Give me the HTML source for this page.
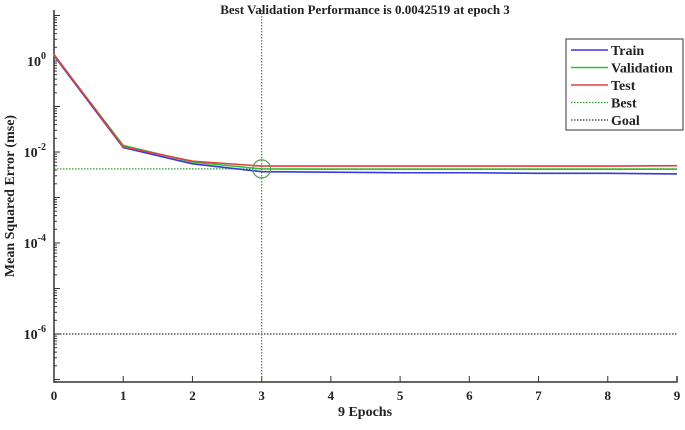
<!DOCTYPE html>
<html><head><meta charset="utf-8"><style>
html,body{margin:0;padding:0;background:#fff;}
svg text{font-family:"Liberation Serif",serif;font-weight:bold;fill:#222;}
</style></head><body>
<svg id="chart" width="685" height="425" viewBox="0 0 685 425">
<g id="plot"></g>
</svg>
<script>
const epochs=[0,1,2,3,4,5,6,7,8,9];
const trainVals=[1.3,0.0125,0.0055,0.0037,0.0036,0.0035,0.0035,0.0034,0.0034,0.0033];
const valVals=[1.35,0.0140,0.0060,0.00425,0.0042,0.0042,0.0042,0.0042,0.0042,0.0042];
const testVals=[1.4,0.0130,0.0063,0.0049,0.0049,0.0049,0.0049,0.0049,0.0049,0.0050];
const xTicks=[0,1,2,3,4,5,6,7,8,9];
const yTickExps=[0,-2,-4,-6];
const bestEpoch=3, bestPerf=0.0042519, goal=1e-6;

const NS="http://www.w3.org/2000/svg";
const g=document.getElementById('plot');
const X0=54,X1=677,YT=10,YB=382;
const xs=v=>X0+(v-0)/(9-0)*(X1-X0);
const ys=v=>152-(Math.log10(v)+2)*45.5;
function mk(t,a,p){const e=document.createElementNS(NS,t);for(const k in a)e.setAttribute(k,a[k]);(p||g).appendChild(e);return e;}

// minor ticks
for(let d=-8;d<=1;d++){for(let m=1;m<10;m++){const y=ys(m*Math.pow(10,d));if(y<YT||y>YB)continue;
const t=mk('line',{x1:X0,x2:X0+(m===1?6:3),y1:y,y2:y,stroke:'#333','stroke-width':1});
}}
yTickExps.forEach(e=>{const y=ys(Math.pow(10,e));
const t=mk('text',{x:X0-8,y:y+5,'text-anchor':'end','font-size':14});

t.textContent='10';const s=mk('tspan',{dy:-7,'font-size':10},t);s.textContent=String(e);});
xTicks.forEach(v=>{const x=xs(v);
const l=mk('line',{x1:x,x2:x,y1:YB,y2:YB-6,stroke:'#333','stroke-width':1});

const t=mk('text',{x:x,y:400,'text-anchor':'middle','font-size':13});
t.textContent=v;});

// axes
const ax=mk('path',{d:`M${X0},${YT}V${YB}H${X1}V${YB-6}`,fill:'none',stroke:'#333','stroke-width':1.5});


// goal & best
const gl=mk('line',{x1:X0,x2:X1,y1:ys(goal),y2:ys(goal),stroke:'#333','stroke-width':1.2,'stroke-dasharray':'1.5 1.5'});

const bh=mk('line',{x1:X0,x2:X1,y1:ys(bestPerf),y2:ys(bestPerf),stroke:'#2a9a2a','stroke-width':1.2,'stroke-dasharray':'1.5 1.5'});

const bv=mk('line',{x1:xs(bestEpoch),x2:xs(bestEpoch),y1:YT,y2:YB,stroke:'#2a9a2a','stroke-width':1.2,'stroke-dasharray':'1.5 1.5'});


function series(vals,color,name){const p=mk('polyline',{points:epochs.map((e,i)=>xs(e)+','+ys(vals[i])).join(' '),fill:'none',stroke:color,'stroke-width':1.6});
}
series(trainVals,'#3838e0','train-line');
series(valVals,'#30c030','validation-line');
series(testVals,'#e04040','test-line');
const c=mk('circle',{cx:xs(bestEpoch),cy:ys(bestPerf),r:9,fill:'none',stroke:'#5a9a5a','stroke-width':1.2});


// title & labels
const ti=mk('text',{x:365,y:14,'text-anchor':'middle','font-size':13});

ti.textContent='Best Validation Performance is 0.0042519 at epoch 3';
const xl=mk('text',{x:365,y:416,'text-anchor':'middle','font-size':14});
xl.textContent='9 Epochs';
const yl=mk('text',{x:0,y:0,'text-anchor':'middle','font-size':14,transform:'translate(14,196) rotate(-90)'});
yl.textContent='Mean Squared Error  (mse)';

// legend
const lg=mk('g',{});
mk('rect',{x:566,y:39,width:117,height:91,fill:'#fff',stroke:'#555','stroke-width':1.2},lg);
const items=[['Train','#3838e0',null],['Validation','#30c030',null],['Test','#e04040',null],['Best','#2a9a2a','1.5 1.5'],['Goal','#333','1.5 1.5']];
items.forEach((it,i)=>{const y=50+i*17.5;
const l=mk('line',{x1:571,x2:608,y1:y,y2:y,stroke:it[1],'stroke-width':it[2]?1.2:1.6},lg);
if(it[2])l.setAttribute('stroke-dasharray',it[2]);

const t=mk('text',{x:611,y:y+5,'font-size':14},lg);
t.textContent=it[0];});
</script>
</body></html>
